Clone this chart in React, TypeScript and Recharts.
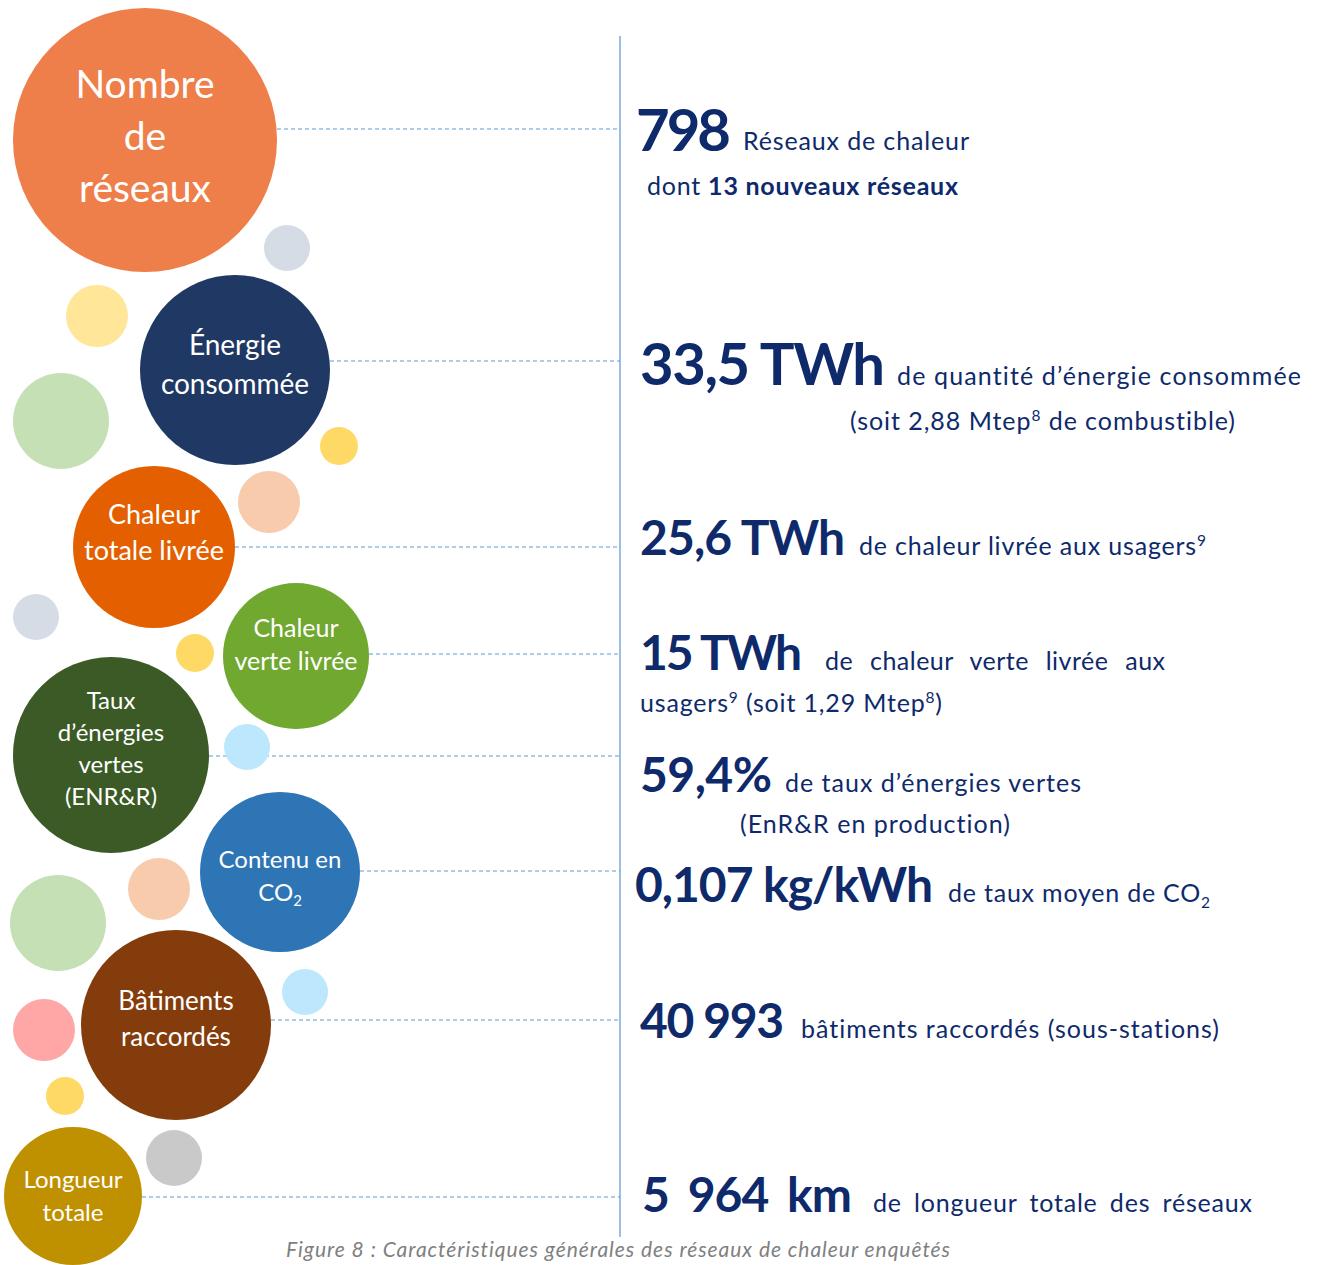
import React from "react";
import { ScatterChart, Scatter, XAxis, YAxis, ReferenceLine } from "recharts";

const W = 1320;
const H = 1265;
const FONT = "Lato, 'Open Sans', sans-serif";
const NAVY = "#0e2a6b";

// the eight indicators (bubble labels, "|" marks a subscript)
const indicatorLabels = [
  ["Nombre", "de", "réseaux"],
  ["Énergie", "consommée"],
  ["Chaleur", "totale livrée"],
  ["Chaleur", "verte livrée"],
  ["Taux", "d’énergies", "vertes", "(ENR&R)"],
  ["Contenu en", "CO|2"],
  ["Bâtiments", "raccordés"],
  ["Longueur", "totale"],
];
const indicatorColors = ["#EF7F4A", "#203864", "#E35F00", "#70A830", "#3B5A25", "#2E75B6", "#843C0C", "#BF9000"];

// bubble centre / radius, label block centre, line height and font size
const indicatorBubbles = [
  { x: 145, y: 140, r: 132, ty: 136, lh: 52, fs: 39 },
  { x: 235, y: 370, r: 95, ty: 364, lh: 39, fs: 28 },
  { x: 154, y: 547, r: 81, ty: 532, lh: 36, fs: 27 },
  { x: 296, y: 656, r: 73, ty: 644, lh: 33, fs: 25 },
  { x: 111, y: 755, r: 98, ty: 748, lh: 32, fs: 24 },
  { x: 280, y: 872, r: 80, ty: 876, lh: 33, fs: 24 },
  { x: 176, y: 1025, r: 95, ty: 1019, lh: 36, fs: 26 },
  { x: 73, y: 1196, r: 69, ty: 1196, lh: 33, fs: 24 },
];
const leaderY = [129, 361, 547, 654, 756, 871, 1020, 1197];

// small decorative bubbles
const decorBubbles = [
  { x: 287, y: 248, r: 23, fill: "#D6DCE5" },
  { x: 97, y: 316, r: 31, fill: "#FFE699" },
  { x: 61, y: 421, r: 48, fill: "#C5E0B4" },
  { x: 339, y: 446, r: 19, fill: "#FFD966" },
  { x: 269, y: 502, r: 31, fill: "#F8CBAD" },
  { x: 36, y: 617, r: 23, fill: "#D6DCE5" },
  { x: 195, y: 653, r: 19, fill: "#FFD966" },
  { x: 247, y: 747, r: 23, fill: "#BDE7FD" },
  { x: 159, y: 889, r: 31, fill: "#F8CBAD" },
  { x: 58, y: 923, r: 48, fill: "#C5E0B4" },
  { x: 305, y: 992, r: 23, fill: "#BDE7FD" },
  { x: 44, y: 1030, r: 31, fill: "#FFA7A7" },
  { x: 65, y: 1096, r: 19, fill: "#FFD966" },
  { x: 174, y: 1158, r: 28, fill: "#C9C9C9" },
];

// key figures
const statValues = ["798", "33,5 TWh", "25,6 TWh", "15 TWh", "59,4%", "0,107 kg/kWh", "40 993", "5 964 km"];
const statValuePos = [
  { x: 636, y: 151, fs: 58, ws: 0, w: 95 },
  { x: 640, y: 385, fs: 58, ws: 0, w: 245 },
  { x: 640, y: 555, fs: 48, ws: 0, w: 205 },
  { x: 640, y: 670, fs: 48, ws: 0, w: 162 },
  { x: 640, y: 792, fs: 48, ws: 0, w: 132 },
  { x: 635, y: 902, fs: 48, ws: 0, w: 298 },
  { x: 640, y: 1038, fs: 48, ws: 0, w: 144 },
  { x: 642, y: 1212, fs: 48, ws: 8, w: 210 },
];

type Seg = { t: string; b?: boolean; sup?: boolean; sub?: boolean };

// descriptions next to the figures
const statNotes: { x: number; y: number; ws: number; w: number; segs: Seg[] }[] = [
  { x: 743, y: 150, ws: 0, w: 226, segs: [{ t: "Réseaux de chaleur" }] },
  { x: 647, y: 195, ws: 0, w: 311, segs: [{ t: "dont " }, { t: "13 nouveaux réseaux", b: true }] },
  { x: 897, y: 385, ws: 0, w: 404, segs: [{ t: "de quantité d’énergie consommée" }] },
  { x: 850, y: 430, ws: 0, w: 385, segs: [{ t: "(soit 2,88 Mtep" }, { t: "8", sup: true }, { t: " de combustible)" }] },
  { x: 859, y: 555, ws: 0, w: 347, segs: [{ t: "de chaleur livrée aux usagers" }, { t: "9", sup: true }] },
  { x: 825, y: 670, ws: 10, w: 340, segs: [{ t: "de chaleur verte livrée aux" }] },
  { x: 640, y: 712, ws: 0, w: 302, segs: [{ t: "usagers" }, { t: "9", sup: true }, { t: " (soit 1,29 Mtep" }, { t: "8", sup: true }, { t: ")" }] },
  { x: 785, y: 792, ws: 0, w: 296, segs: [{ t: "de taux d’énergies vertes" }] },
  { x: 740, y: 833, ws: 0, w: 270, segs: [{ t: "(EnR&R en production)" }] },
  { x: 948, y: 902, ws: 0, w: 262, segs: [{ t: "de taux moyen de CO" }, { t: "2", sub: true }] },
  { x: 801, y: 1038, ws: 0, w: 418, segs: [{ t: "bâtiments raccordés (sous-stations)" }] },
  { x: 873, y: 1212, ws: 5, w: 379, segs: [{ t: "de longueur totale des réseaux" }] },
];

const caption = "Figure 8 : Caractéristiques générales des réseaux de chaleur enquêtés";

const renderSegs = (segs: Seg[], size: number) => {
  let shift = 0;
  return segs.map((s, i) => {
    const target = s.sup ? -size * 0.38 : s.sub ? size * 0.22 : 0;
    const dy = target - shift;
    shift = target;
    return (
      <tspan key={i} dy={dy} fontSize={s.sup || s.sub ? size * 0.62 : size} fontWeight={s.b ? 700 : undefined}>
        {s.t}
      </tspan>
    );
  });
};

const Bubble = (props: any) => {
  const { cx, cy, payload } = props;
  const lines: string[] = payload.lines || [];
  const n = lines.length;
  return (
    <g>
      <circle cx={cx} cy={cy} r={payload.r} fill={payload.fill} />
      {lines.map((ln, i) => {
        const lineCentre = cy + (payload.ty - payload.y) + (i - (n - 1) / 2) * payload.lh;
        const parts = ln.split("|");
        return (
          <text
            key={i}
            x={cx}
            y={lineCentre + payload.fs * 0.36}
            textAnchor="middle"
            fill="#fff"
            fontFamily={FONT}
            fontSize={payload.fs}
          >
            {parts.length > 1 ? renderSegs([{ t: parts[0] }, { t: parts[1], sub: true }], payload.fs) : ln}
          </text>
        );
      })}
    </g>
  );
};

const Label = (props: any) => {
  const { cx, cy, payload } = props;
  return (
    <text
      x={cx}
      y={cy}
      fill={payload.color}
      fontFamily={FONT}
      fontSize={payload.fs}
      fontWeight={payload.weight}
      fontStyle={payload.italic ? "italic" : undefined}
      wordSpacing={payload.ws}
      textLength={payload.w}
      lengthAdjust="spacing"
      style={{ whiteSpace: "pre", fontVariantLigatures: "none" }}
    >
      {renderSegs(payload.segs, payload.fs)}
    </text>
  );
};

export default function App() {
  const bubbles = indicatorBubbles.map((b, i) => ({ ...b, fill: indicatorColors[i], lines: indicatorLabels[i] }));
  const values = statValues.map((v, i) => ({
    ...statValuePos[i],
    segs: [{ t: v }],
    color: NAVY,
    weight: 700,
  }));
  const notes = statNotes.map((n) => ({ ...n, fs: 25, color: NAVY, weight: 400 }));
  const captionData = [
    { x: 286, y: 1257, fs: 21, ws: 0, w: 664, segs: [{ t: caption }], color: "#808080", weight: 400, italic: true },
  ];

  return (
    <div style={{ position: "absolute", left: 0, top: 0, background: "#fff" }}>
      <ScatterChart width={W} height={H} margin={{ top: 0, right: 0, bottom: 0, left: 0 }}>
        <XAxis type="number" dataKey="x" domain={[0, W]} hide allowDataOverflow />
        <YAxis type="number" dataKey="y" domain={[0, H]} reversed hide allowDataOverflow />
        <ReferenceLine
          segment={[{ x: 620, y: 36 }, { x: 620, y: 1237 }]}
          stroke="#7DA7D9"
          strokeWidth={1.5}
        />
        {leaderY.map((y, i) => (
          <ReferenceLine
            key={i}
            segment={[{ x: indicatorBubbles[i].x + indicatorBubbles[i].r, y }, { x: 620, y }]}
            stroke="#5B9BD5"
            strokeDasharray="4 3"
            strokeWidth={1.2}
          />
        ))}
        <Scatter data={decorBubbles} shape={<Bubble />} isAnimationActive={false} />
        <Scatter data={bubbles} shape={<Bubble />} isAnimationActive={false} />
        <Scatter data={values} shape={<Label />} isAnimationActive={false} />
        <Scatter data={notes} shape={<Label />} isAnimationActive={false} />
        <Scatter data={captionData} shape={<Label />} isAnimationActive={false} />
      </ScatterChart>
    </div>
  );
}
